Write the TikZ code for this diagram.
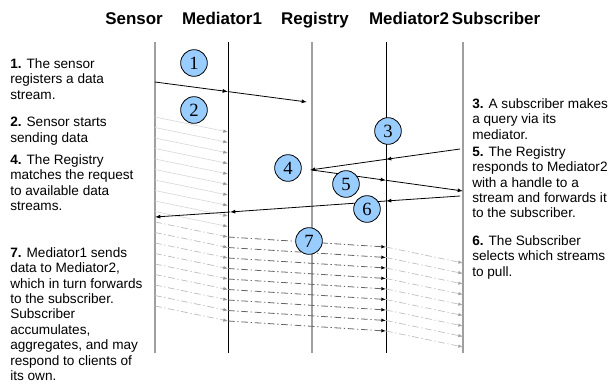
\documentclass[tikz,border=0pt]{standalone}
\usepackage{fontspec}
\setmainfont{Liberation Sans}
\newfontfamily\numfont{Liberation Serif}
\usetikzlibrary{arrows.meta}
\definecolor{stepblue}{RGB}{153,204,255}
\tikzset{
  lifeline/.style={gray!75, line width=0.9pt},
  medline/.style={black, line width=0.6pt},
  msg/.style={black, line width=0.6pt, -{Latex[length=4pt,width=3pt]}},
  feed/.style={gray!30, line width=0.5pt, -{Latex[length=3.5pt,width=2.6pt,color=gray!80]}},
  feedfwd/.style={gray!55, line width=0.5pt, dash pattern=on 5pt off 2pt on 1pt off 2pt,
    -{Latex[length=3.5pt,width=2.6pt,color=gray!80]}},
  relay/.style={gray!80!black, line width=0.6pt, dash pattern=on 5pt off 2pt on 1pt off 2pt,
    -{Latex[length=3.5pt,width=2.6pt,color=black]}},
  relayout/.style={gray!50, line width=0.5pt, dash pattern=on 5pt off 2pt on 1pt off 2pt,
    -{Latex[length=3.5pt,width=2.6pt,color=gray!70]}},
  numcirc/.style={circle, draw=black, line width=0.6pt, fill=stepblue, minimum size=20pt,
    inner sep=0pt, font=\numfont\fontsize{14}{14}\selectfont},
  head/.style={anchor=base, font=\bfseries\fontsize{12.7}{15}\selectfont},
  note/.style={anchor=north west, align=left, inner sep=0pt, font=\fontsize{10.2}{11.6}\selectfont}
}
\begin{document}
\begin{tikzpicture}[x=0.75pt,y=-0.75pt]
  \useasboundingbox (0,0) rectangle (611,390);
  % headers
  \node[head] (hsensor) at (134,24) {Sensor};
  \node[head] (hmedone) at (222,24) {Mediator1};
  \node[head] (hregistry) at (315,24) {Registry};
  \node[head] (hmedtwo) at (409,24) {Mediator2};
  \node[head] (hsubscriber) at (496,24) {Subscriber};
  % lifelines
  \foreach \name/\x in {sensor/155, medone/228, registry/312, medtwo/386, subscriber/463} {
    \coordinate (\name top) at (\x,42);
    \coordinate (\name bot) at (\x,353);
  }
  \draw[lifeline] (sensortop) -- (sensorbot);
  \draw[medline] (medonetop) -- (medonebot);
  \draw[lifeline] (registrytop) -- (registrybot);
  \draw[medline] (medtwotop) -- (medtwobot);
  \draw[lifeline] (subscribertop) -- (subscriberbot);
  % data streams from the sensor
  \foreach \k in {0,...,18} {
    \coordinate (src\k) at (155,{117+10.5*\k});
    \coordinate (dst\k) at (228,{132+10.5*\k});
  }
  \foreach \k in {0,...,9}
    \draw[feed] (src\k) -- (dst\k);
  \foreach \k in {10,...,18} {
    \coordinate (fwd\k) at (386,{142+10.5*\k});
    \coordinate (out\k) at (463,{158+10.5*\k});
    \draw[feedfwd] (src\k) -- (dst\k);
    \draw[relay] (dst\k) -- (fwd\k);
    \draw[relayout] (fwd\k) -- (out\k);
  }
  % 1: register
  \coordinate (s1) at (155,82);
  \coordinate (m1) at (228,91.6);
  \coordinate (r1) at (307,102);
  \draw[msg] (s1) -- (m1);
  \draw[msg] (m1) -- (r1);
  % 3: query
  \coordinate (q1) at (460,149);
  \coordinate (q2) at (386,159.3);
  \coordinate (q3) at (310,170);
  \draw[msg] (q1) -- (q2);
  \draw[msg] (q2) -- (q3);
  % 5: response
  \coordinate (a1) at (312,170);
  \coordinate (a2) at (386,180.3);
  \coordinate (a3) at (463,191);
  \draw[msg] (a1) -- (a2);
  \draw[msg] (a2) -- (a3);
  % 6: select
  \coordinate (p1) at (460,196);
  \coordinate (p2) at (386,201);
  \coordinate (p3) at (230,212);
  \coordinate (p4) at (155,217);
  \draw[msg] (p1) -- (p2);
  \draw[msg] (p2) -- (p3);
  \draw[msg] (p3) -- (p4);
  % step markers
  \node[numcirc] (c1) at (194,63) {1};
  \node[numcirc] (c2) at (194,110) {2};
  \node[numcirc] (c3) at (388,131) {3};
  \node[numcirc] (c4) at (288,168) {4};
  \node[numcirc] (c5) at (346,184) {5};
  \node[numcirc] (c6) at (367,209) {6};
  \node[numcirc] (c7) at (309,241) {7};
  % notes
  \node[note] (n1) at (10,58) {\textbf{1.} The sensor\\registers a data\\stream.};
  \node[note] (n2) at (10,117) {\textbf{2.} Sensor starts\\sending data};
  \node[note] (n4) at (10,154) {\textbf{4.} The Registry\\matches the request\\to available data\\streams.};
  \node[note] (n7) at (10,247) {\textbf{7.} Mediator1 sends\\data to Mediator2,\\which in turn forwards\\to the subscriber.\\Subscriber\\accumulates,\\aggregates, and may\\respond to clients of\\its own.};
  \node[note] (n3) at (472,98) {\textbf{3.} A subscriber makes\\a query via its\\mediator.};
  \node[note] (n5) at (472,146) {\textbf{5.} The Registry\\responds to Mediator2\\with a handle to a\\stream and forwards it\\to the subscriber.};
  \node[note] (n6) at (472,235) {\textbf{6.} The Subscriber\\selects which streams\\to pull.};
\end{tikzpicture}
\end{document}
